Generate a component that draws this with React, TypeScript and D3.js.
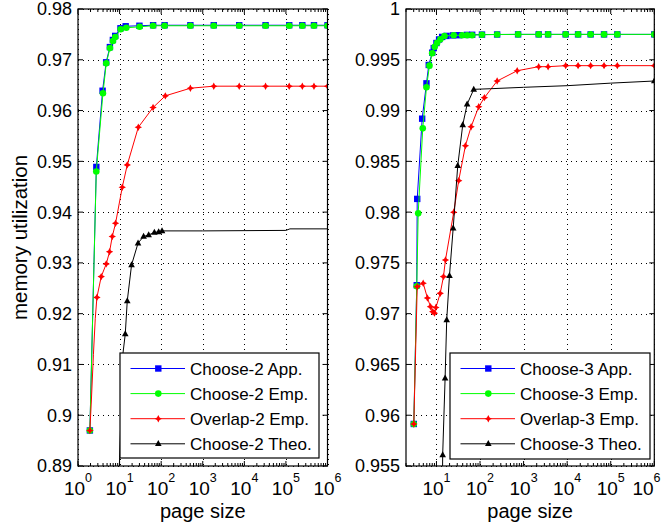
import React from 'react';
import * as d3 from 'd3';

type P = [number, number];

// ---------- tick values ----------
const leftXTicks = [1, 10, 100, 1e3, 1e4, 1e5, 1e6];
const rightXTicks = [10, 100, 1e3, 1e4, 1e5, 1e6];
const leftYTicks = [0.89, 0.9, 0.91, 0.92, 0.93, 0.94, 0.95, 0.96, 0.97, 0.98];
const rightYTicks = [0.955, 0.96, 0.965, 0.97, 0.975, 0.98, 0.985, 0.99, 0.995, 1];
const leftXDomain: P = [1, 1e6];
const rightXDomain: P = [2, 1e6];
const leftYDomain: P = [0.89, 0.98];
const rightYDomain: P = [0.955, 1];

const leftLegend = ['Choose-2 App.', 'Choose-2 Emp.', 'Overlap-2 Emp.', 'Choose-2 Theo.'];
const rightLegend = ['Choose-3 App.', 'Choose-3 Emp.', 'Overlap-3 Emp.', 'Choose-3 Theo.'];
const xAxisLabel = 'page size';
const yAxisLabel = 'memory utilization';

// ---------- left panel data (marked samples + unmarked vertices) ----------
const c2App: P[] = [
  [1.93, 0.897], [2.76, 0.9489], [3.9, 0.9639], [4.75, 0.9695], [5.85, 0.9725], [6.9, 0.9739],
  [7.85, 0.9747], [10.5, 0.9762], [14, 0.9766], [30, 0.9767], [64, 0.9768], [121, 0.9768],
  [504, 0.9768], [1841, 0.9768], [7536, 0.9768], [32400, 0.9768], [120000, 0.9768],
  [248000, 0.9768], [473000, 0.9768], [1000000, 0.9768],
];
const c2AppExtra: P[] = [];
const c2Emp: P[] = [
  [1.93, 0.897], [2.75, 0.948], [3.98, 0.9634], [4.78, 0.9693], [5.87, 0.9723], [6.93, 0.9737],
  [7.88, 0.9745], [10.6, 0.976], [14.5, 0.9763], [30.3, 0.9765], [64, 0.9767], [121, 0.9767],
  [504, 0.9767], [1841, 0.9767], [7536, 0.9767], [32400, 0.9767], [120000, 0.9767],
  [248000, 0.9767], [473000, 0.9767], [1000000, 0.9767],
];
const c2EmpExtra: P[] = [];
const o2Emp: P[] = [
  [1.93, 0.897], [2.85, 0.9232], [3.62, 0.9273], [4.78, 0.9298], [5.74, 0.9322], [6.67, 0.9352],
  [8.0, 0.9378], [11.6, 0.9449], [15.3, 0.9493], [28.2, 0.9567], [63.8, 0.9606], [126, 0.9629],
  [504, 0.9644], [1841, 0.9648], [7536, 0.9648], [32400, 0.9648], [120000, 0.9648],
  [248000, 0.9648], [473000, 0.9648], [1000000, 0.9648],
];
const o2EmpExtra: P[] = [[2.1, 0.903], [2.35, 0.912], [2.6, 0.919]];
const c2Theo: P[] = [
  [13.7, 0.916], [15.3, 0.9225], [19.4, 0.9296], [27.8, 0.9339], [37.8, 0.9352], [50, 0.9355],
  [68.6, 0.936], [87, 0.9361], [105, 0.9363],
];
const c2TheoExtra: P[] = [
  [9.2, 0.88], [10, 0.8916], [12.07, 0.9122], [1000, 0.9363], [100000, 0.9364],
  [125000, 0.9367], [1000000, 0.9367],
];

// ---------- right panel data ----------
const c3App: P[] = [
  [3.02, 0.95914], [3.53, 0.9728], [3.62, 0.9813], [4.7, 0.9892], [5.9, 0.99268], [6.66, 0.99449],
  [8.0, 0.9957], [8.67, 0.99615], [10.0, 0.99665], [11.5, 0.997], [13.5, 0.99725], [17, 0.99735],
  [24, 0.9974], [33, 0.99742], [50, 0.99745], [66, 0.99746], [111, 0.99748], [247, 0.99749],
  [748, 0.9975], [2220, 0.9975], [3650, 0.9975], [9250, 0.9975], [17800, 0.9975],
  [34600, 0.9975], [70200, 0.9975], [141600, 0.9975], [1000000, 0.9975],
];
const c3AppExtra: P[] = [];
const c3Emp: P[] = [
  [3.02, 0.95914], [3.53, 0.9727], [3.81, 0.97988], [4.85, 0.98825], [5.9, 0.99229],
  [6.91, 0.99442], [7.97, 0.99564], [9.13, 0.99629], [10.4, 0.99668], [12.3, 0.99701],
  [15.3, 0.99734], [24.9, 0.99741], [38.8, 0.99741], [50.6, 0.99742], [65.8, 0.99742],
  [111, 0.99747], [247, 0.99749], [748, 0.9975], [2220, 0.9975], [3650, 0.9975], [9250, 0.9975],
  [17800, 0.9975], [34600, 0.9975], [70200, 0.9975], [141600, 0.9975], [1000000, 0.9975],
];
const c3EmpExtra: P[] = [];
const o3Emp: P[] = [
  [3.02, 0.95914], [3.62, 0.97266], [4.96, 0.973], [6.2, 0.97155], [7.3, 0.97069], [8.22, 0.9702],
  [9.0, 0.97005], [9.7, 0.9706], [12.2, 0.972], [14.5, 0.97365], [16.1, 0.97529], [24.9, 0.97998],
  [32.4, 0.9831], [46.2, 0.98654], [62.5, 0.98841], [93.4, 0.99038], [126, 0.99127], [247, 0.99291],
  [713, 0.99392], [2220, 0.99432], [3650, 0.99432], [9250, 0.99442], [17800, 0.99442],
  [34600, 0.99442], [70200, 0.99442], [141600, 0.99442], [1000000, 0.99442],
];
const o3EmpExtra: P[] = [];
const c3Theo: P[] = [
  [13.9, 0.95609], [15.8, 0.96364], [17.2, 0.96938], [19.9, 0.97374], [24.2, 0.97841],
  [30.8, 0.98457], [40.1, 0.98858], [50.6, 0.99062], [71.7, 0.99209], [1000000, 0.99291],
];
const c3TheoExtra: P[] = [[13.5, 0.95], [173, 0.99215], [1000, 0.99229], [10000, 0.99245], [100000, 0.9927]];

// ---------- styles ----------
type MarkerKind = 'square' | 'circle' | 'star' | 'triangle';
const STYLES: { color: string; marker: MarkerKind }[] = [
  { color: '#0000ff', marker: 'square' },
  { color: '#00ff00', marker: 'circle' },
  { color: '#ff0000', marker: 'star' },
  { color: '#000000', marker: 'triangle' },
];
const FONT = '"Liberation Sans", Arial, Helvetica, sans-serif';
const SVG_W = 661;

function marker(kind: MarkerKind, cx: number, cy: number, color: string, key: string) {
  switch (kind) {
    case 'square':
      return <rect key={key} x={cx - 3.2} y={cy - 3.2} width={6.4} height={6.4} fill={color} />;
    case 'circle':
      return <circle key={key} cx={cx} cy={cy} r={3.3} fill={color} />;
    case 'star': {
      const a = 3.7, b = 1.3;
      return (
        <path
          key={key}
          d={`M${cx},${cy - a}L${cx + b},${cy - b}L${cx + a},${cy}L${cx + b},${cy + b}L${cx},${cy + a}L${cx - b},${cy + b}L${cx - a},${cy}L${cx - b},${cy - b}Z`}
          fill={color}
        />
      );
    }
    case 'triangle':
      return <path key={key} d={`M${cx},${cy - 3.7}L${cx + 3.3},${cy + 2.3}L${cx - 3.3},${cy + 2.3}Z`} fill={color} />;
  }
}

interface Box { x0: number; y0: number; x1: number; y1: number }
interface PanelProps {
  id: string;
  box: Box;
  xDomain: P;
  yDomain: P;
  xTicks: number[];
  yTicks: number[];
  series: { marked: P[]; extra: P[] }[];
  legend: string[];
  legendBox: Box;
}

function Panel({ id, box, xDomain, yDomain, xTicks, yTicks, series, legend, legendBox }: PanelProps) {
  const xs = d3.scaleLog().domain(xDomain).range([box.x0, box.x1]);
  const ys = d3.scaleLinear().domain(yDomain).range([box.y1, box.y0]);
  const line = d3.line<P>().x((d) => xs(d[0])).y((d) => ys(d[1]));

  // minor log ticks
  const minor: number[] = [];
  const lo = Math.floor(Math.log10(xDomain[0]));
  const hi = Math.ceil(Math.log10(xDomain[1]));
  for (let e = lo; e < hi; e++) {
    for (let m = 2; m <= 9; m++) {
      const v = m * Math.pow(10, e);
      if (v >= xDomain[0] && v <= xDomain[1]) minor.push(v);
    }
  }
  const fmt = (v: number) => String(+v.toFixed(3));
  const majT = 5, minT = 3;
  const labelHalf = 13.5; // approx half width of "10^k" label

  return (
    <g>
      <defs>
        <clipPath id={`clip-${id}`}>
          <rect x={box.x0} y={box.y0} width={box.x1 - box.x0} height={box.y1 - box.y0} />
        </clipPath>
      </defs>
      <rect x={box.x0} y={box.y0} width={box.x1 - box.x0} height={box.y1 - box.y0} fill="#fff" />
      {/* grid */}
      <g stroke="#000" strokeWidth={1} strokeDasharray="1 4" fill="none">
        {xTicks.map((t) => (
          <line key={`gx${t}`} x1={Math.round(xs(t)) + 0.5} x2={Math.round(xs(t)) + 0.5} y1={box.y0} y2={box.y1} />
        ))}
        {yTicks.map((t) => (
          <line key={`gy${t}`} x1={box.x0} x2={box.x1} y1={Math.round(ys(t)) + 0.5} y2={Math.round(ys(t)) + 0.5} />
        ))}
      </g>
      {/* ticks */}
      <g stroke="#000" strokeWidth={1}>
        {xTicks.map((t) => (
          <g key={`tx${t}`}>
            <line x1={xs(t)} x2={xs(t)} y1={box.y1} y2={box.y1 - majT} />
            <line x1={xs(t)} x2={xs(t)} y1={box.y0} y2={box.y0 + majT} />
          </g>
        ))}
        {minor.map((t) => (
          <g key={`mx${t}`}>
            <line x1={xs(t)} x2={xs(t)} y1={box.y1} y2={box.y1 - minT} />
            <line x1={xs(t)} x2={xs(t)} y1={box.y0} y2={box.y0 + minT} />
          </g>
        ))}
        {yTicks.map((t) => (
          <g key={`ty${t}`}>
            <line x1={box.x0} x2={box.x0 + majT} y1={ys(t)} y2={ys(t)} />
            <line x1={box.x1} x2={box.x1 - majT} y1={ys(t)} y2={ys(t)} />
          </g>
        ))}
      </g>
      {/* series */}
      <g clipPath={`url(#clip-${id})`}>
        {series.map((s, i) => {
          const all = [...s.marked, ...s.extra].sort((a, b) => a[0] - b[0]);
          const st = STYLES[i];
          return (
            <g key={`s${i}`}>
              <path d={line(all) || ''} fill="none" stroke={st.color} strokeWidth={1} />
              {s.marked.map((p, j) => marker(st.marker, xs(p[0]), ys(p[1]), st.color, `m${i}-${j}`))}
            </g>
          );
        })}
      </g>
      {/* box */}
      <rect x={box.x0} y={box.y0} width={box.x1 - box.x0} height={box.y1 - box.y0} fill="none" stroke="#000" strokeWidth={1.2} />
      {/* tick labels */}
      <g fontFamily={FONT} fill="#000">
        {yTicks.map((t) => (
          <text key={`ly${t}`} x={box.x0 - 6} y={ys(t)} dy="0.36em" textAnchor="end" fontSize={18}>
            {fmt(t)}
          </text>
        ))}
        {xTicks.map((t) => {
          const cx = Math.min(xs(t), SVG_W - 1 - labelHalf);
          return (
            <text key={`lx${t}`} x={cx} y={495} textAnchor="middle" fontSize={19}>
              10
              <tspan dy={-13} fontSize={12.5}>{Math.round(Math.log10(t))}</tspan>
            </text>
          );
        })}
        <text x={(box.x0 + box.x1) / 2} y={518} textAnchor="middle" fontSize={20}>
          {xAxisLabel}
        </text>
      </g>
      {/* legend */}
      <g>
        <rect
          x={legendBox.x0}
          y={legendBox.y0}
          width={legendBox.x1 - legendBox.x0}
          height={legendBox.y1 - legendBox.y0}
          fill="#fff"
          stroke="#000"
          strokeWidth={1.2}
        />
        {legend.map((lab, i) => {
          const cy = legendBox.y0 + 15.5 + i * 25.1;
          const st = STYLES[i];
          const lx = legendBox.x0;
          return (
            <g key={`lg${i}`}>
              <line x1={lx + 10.5} x2={lx + 65} y1={cy} y2={cy} stroke={st.color} strokeWidth={1} />
              {marker(st.marker, lx + 38.3, cy, st.color, `lm${i}`)}
              <text x={lx + 70} y={cy} dy="0.36em" fontFamily={FONT} fontSize={17} fill="#000">
                {lab}
              </text>
            </g>
          );
        })}
      </g>
    </g>
  );
}

export default function App() {
  const leftSeries = [
    { marked: c2App, extra: c2AppExtra },
    { marked: c2Emp, extra: c2EmpExtra },
    { marked: o2Emp, extra: o2EmpExtra },
    { marked: c2Theo, extra: c2TheoExtra },
  ];
  const rightSeries = [
    { marked: c3App, extra: c3AppExtra },
    { marked: c3Emp, extra: c3EmpExtra },
    { marked: o3Emp, extra: o3EmpExtra },
    { marked: c3Theo, extra: c3TheoExtra },
  ];
  return (
    <div style={{ position: 'fixed', left: 0, top: 0 }}>
      <svg width={661} height={531} viewBox="0 0 661 531" style={{ display: 'block', background: '#fff' }}>
        <rect x={0} y={0} width={661} height={531} fill="#fff" />
        <Panel
          id="L"
          box={{ x0: 78, y0: 9, x1: 327.5, y1: 466 }}
          xDomain={leftXDomain}
          yDomain={leftYDomain}
          xTicks={leftXTicks}
          yTicks={leftYTicks}
          series={leftSeries}
          legend={leftLegend}
          legendBox={{ x0: 120, y0: 353, x1: 319, y1: 458 }}
        />
        <Panel
          id="R"
          box={{ x0: 406, y0: 9, x1: 654.3, y1: 466 }}
          xDomain={rightXDomain}
          yDomain={rightYDomain}
          xTicks={rightXTicks}
          yTicks={rightYTicks}
          series={rightSeries}
          legend={rightLegend}
          legendBox={{ x0: 450, y0: 353, x1: 650, y1: 459 }}
        />
        <text
          transform="translate(27,237.5) rotate(-90)"
          textAnchor="middle"
          fontFamily={FONT}
          fontSize={20.5}
          fill="#000"
        >
          {yAxisLabel}
        </text>
      </svg>
    </div>
  );
}
